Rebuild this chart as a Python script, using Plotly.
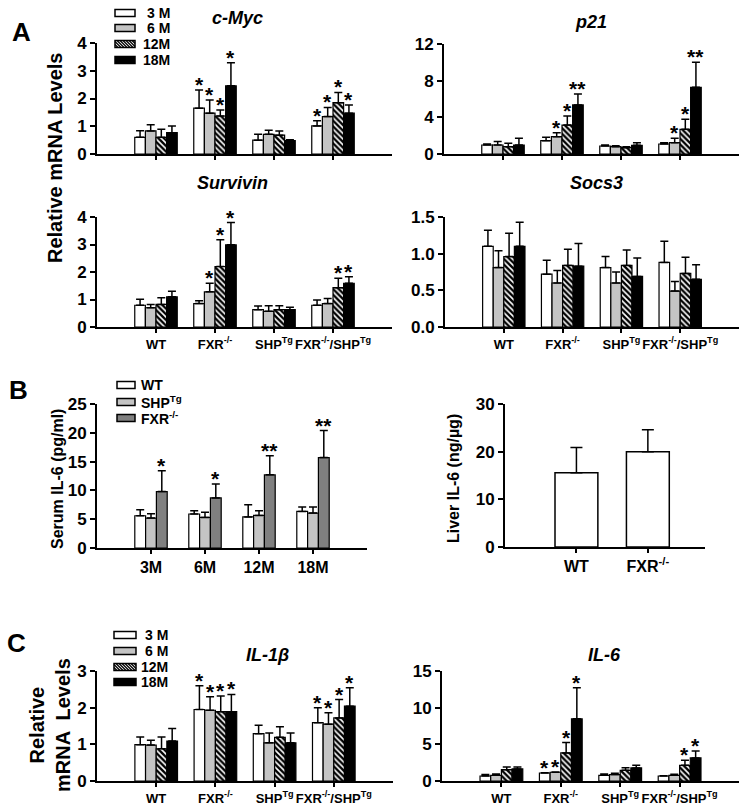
import plotly.graph_objects as go

W, H = 750, 807
FONT = "Liberation Sans, Arial, sans-serif"

# ---------------- data ----------------
genotypes = ["WT", "FXR<sup>-/-</sup>", "SHP<sup>Tg</sup>", "FXR<sup>-/-</sup>/SHP<sup>Tg</sup>"]
ages = ["3 M", "6 M", "12M", "18M"]

# rows = ages (3M, 6M, 12M, 18M); columns = genotypes (WT, FXR-/-, SHPTg, FXR-/-/SHPTg)
cmyc_mean = [[0.60, 1.65, 0.50, 1.01], [0.83, 1.47, 0.71, 1.35], [0.60, 1.37, 0.68, 1.85], [0.77, 2.46, 0.48, 1.47]]
cmyc_err = [[0.24, 0.66, 0.21, 0.19], [0.22, 0.48, 0.15, 0.33], [0.29, 0.22, 0.15, 0.37], [0.24, 0.83, 0.03, 0.30]]
cmyc_sig = [["", "*", "", "*"], ["", "*", "", "*"], ["", "*", "", "*"], ["", "*", "", "*"]]

p21_mean = [[0.98, 1.45, 0.87, 1.09], [0.98, 1.89, 0.80, 1.24], [0.80, 3.16, 0.69, 2.69], [0.98, 5.35, 0.95, 7.27]]
p21_err = [[0.11, 0.37, 0.11, 0.15], [0.37, 0.44, 0.11, 0.47], [0.36, 0.99, 0.11, 1.09], [0.73, 1.20, 0.29, 2.73]]
p21_sig = [["", "", "", ""], ["", "*", "", "*"], ["", "*", "", "*"], ["", "**", "", "**"]]

surv_mean = [[0.79, 0.85, 0.63, 0.79], [0.70, 1.28, 0.57, 0.85], [0.82, 2.20, 0.63, 1.43], [1.10, 2.99, 0.63, 1.59]]
surv_err = [[0.22, 0.10, 0.13, 0.19], [0.12, 0.31, 0.20, 0.19], [0.24, 0.97, 0.14, 0.34], [0.20, 0.81, 0.09, 0.24]]
surv_sig = [["", "", "", ""], ["", "*", "", ""], ["", "*", "", "*"], ["", "*", "", "*"]]

socs3_mean = [[1.10, 0.72, 0.81, 0.88], [0.81, 0.60, 0.60, 0.49], [0.96, 0.84, 0.84, 0.73], [1.10, 0.83, 0.69, 0.65]]
socs3_err = [[0.22, 0.19, 0.15, 0.29], [0.23, 0.17, 0.15, 0.13], [0.32, 0.22, 0.21, 0.22], [0.33, 0.31, 0.25, 0.20]]
socs3_sig = [["", "", "", ""], ["", "", "", ""], ["", "", "", ""], ["", "", "", ""]]

# Panel B: serum IL-6 by age
serum_ages = ["3M", "6M", "12M", "18M"]
serum_groups = ["WT", "SHP<sup>Tg</sup>", "FXR<sup>-/-</sup>"]
serum_mean = [[5.6, 5.9, 5.4, 6.35], [5.2, 5.3, 5.66, 6.06], [9.8, 8.7, 12.7, 15.7]]
serum_err = [[1.04, 0.57, 2.1, 0.75], [0.75, 0.9, 0.81, 1.04], [3.6, 2.4, 3.3, 4.7]]
serum_sig = [["", "", "", ""], ["", "", "", ""], ["*", "*", "**", "**"]]

liver_groups = ["WT", "FXR<sup>-/-</sup>"]
liver_mean = [15.6, 20.0]
liver_err = [5.3, 4.6]

# Panel C
il1b_mean = [[0.99, 1.95, 1.29, 1.59], [0.98, 1.93, 1.04, 1.55], [0.88, 1.89, 1.19, 1.72], [1.09, 1.89, 1.04, 2.04]]
il1b_err = [[0.21, 0.65, 0.23, 0.41], [0.13, 0.37, 0.27, 0.31], [0.32, 0.43, 0.29, 0.50], [0.34, 0.47, 0.27, 0.50]]
il1b_sig = [["", "*", "", "*"], ["", "*", "", "*"], ["", "*", "", "*"], ["", "*", "", "*"]]

il6_mean = [[0.68, 1.09, 0.78, 0.68], [0.78, 1.19, 0.87, 0.78], [1.55, 3.83, 1.46, 2.14], [1.64, 8.48, 1.78, 3.15]]
il6_err = [[0.19, 0.05, 0.18, 0.05], [0.18, 0.05, 0.18, 0.13], [0.37, 1.41, 0.36, 0.69], [0.28, 4.22, 0.36, 0.95]]
il6_sig = [["", "*", "", ""], ["", "*", "", ""], ["", "*", "", "*"], ["", "*", "", "*"]]

# ---------------- styling ----------------
GRAY = "#c4c4c4"
DARK = "#808080"
age_styles = [
    dict(color="white"),
    dict(color=GRAY),
    dict(color="white", pattern=dict(shape="\\", fgcolor="black", bgcolor="white", size=4, solidity=0.6)),
    dict(color="black"),
]
serum_styles = [dict(color="white"), dict(color=GRAY), dict(color=DARK)]


def px_x(v):
    return v / W


def px_y(v):
    return 1 - v / H


fig = go.Figure()
ann = []
shapes = []


def axname(n, kind):
    return kind if n == 1 else f"{kind}{n}"


def add_grouped(n, means, errs, sigs, names, styles, bw):
    k = len(means)
    xs_base = list(range(len(means[0])))
    for i in range(k):
        off = -k * bw / 2 + i * bw
        st = styles[i]
        marker = dict(color=st["color"], line=dict(color="black", width=1.2))
        if "pattern" in st:
            marker["pattern"] = st["pattern"]
        fig.add_trace(go.Bar(
            x=xs_base, y=means[i], width=bw, offset=off, marker=marker,
            error_y=dict(type="data", symmetric=False, array=errs[i], arrayminus=[0] * len(errs[i]),
                         color="black", thickness=1.5, width=4),
            xaxis=axname(n, "x"), yaxis=axname(n, "y"), name=names[i], showlegend=False,
            hoverinfo="skip",
        ))
        for j, s in enumerate(sigs[i]):
            if s:
                ann.append(dict(x=xs_base[j] + off + bw / 2, y=means[i][j] + errs[i][j],
                                xref=axname(n, "x"), yref=axname(n, "y"), text=s, showarrow=False,
                                xanchor="center", yanchor="bottom", yshift=-8,
                                font=dict(family=FONT, size=21, color="black", weight="bold")))


add_grouped(1, cmyc_mean, cmyc_err, cmyc_sig, ages, age_styles, 0.18)
add_grouped(2, p21_mean, p21_err, p21_sig, ages, age_styles, 0.18)
add_grouped(3, surv_mean, surv_err, surv_sig, ages, age_styles, 0.18)
add_grouped(4, socs3_mean, socs3_err, socs3_sig, ages, age_styles, 0.18)
add_grouped(5, serum_mean, serum_err, serum_sig, serum_groups, serum_styles, 0.2)
add_grouped(7, il1b_mean, il1b_err, il1b_sig, ages, age_styles, 0.18)
add_grouped(8, il6_mean, il6_err, il6_sig, ages, age_styles, 0.18)

fig.add_trace(go.Bar(
    x=[0, 1], y=liver_mean, width=0.6, marker=dict(color="white", line=dict(color="black", width=1.5)),
    error_y=dict(type="data", symmetric=False, array=liver_err, arrayminus=[0, 0], color="black",
                 thickness=1.5, width=6),
    xaxis="x6", yaxis="y6", showlegend=False, hoverinfo="skip",
))

# ---------------- axes ----------------
panels = {
    1: dict(x=(97, 392), y=(43, 154), yr=4, yt=[0, 1, 2, 3, 4], xr=(-1, 4), lab=None),
    2: dict(x=(444, 739), y=(44, 154), yr=12, yt=[0, 4, 8, 12], xr=(-1, 4), lab=None),
    3: dict(x=(97, 392), y=(217, 327), yr=4, yt=[0, 1, 2, 3, 4], xr=(-1, 4), lab=genotypes),
    4: dict(x=(445, 739), y=(217, 327), yr=1.5, yt=[0, 0.5, 1.0, 1.5], xr=(-1, 4), lab=genotypes, fmt=".1f"),
    5: dict(x=(97, 367), y=(404, 548), yr=25, yt=[0, 5, 10, 15, 20, 25], xr=(-1, 4), lab=serum_ages, lf=16),
    6: dict(x=(505, 705), y=(404, 547), yr=30, yt=[0, 10, 20, 30], xr=(-1, 1.8), lab=liver_groups, lf=16),
    7: dict(x=(97, 393), y=(671, 781), yr=3, yt=[0, 1, 2, 3], xr=(-1, 4), lab=genotypes),
    8: dict(x=(442, 739), y=(671, 781), yr=15, yt=[0, 5, 10, 15], xr=(-1, 4), lab=genotypes),
}

layout_axes = {}
for n, p in panels.items():
    xk = "xaxis" if n == 1 else f"xaxis{n}"
    yk = "yaxis" if n == 1 else f"yaxis{n}"
    nticks = len(p["lab"]) if p["lab"] else 4
    xa = dict(
        domain=[px_x(p["x"][0]), px_x(p["x"][1])], range=list(p["xr"]),
        anchor=axname(n, "y"), showgrid=False, zeroline=False, automargin=False,
        showline=True, linecolor="black", linewidth=2,
        ticks="outside", ticklen=4, tickwidth=1.5, tickcolor="black", tickangle=0,
        tickvals=list(range(nticks)), showticklabels=bool(p["lab"]),
        tickfont=dict(family=FONT, size=p.get("lf", 13), color="black", weight="bold"),
        fixedrange=True,
    )
    if p["lab"]:
        xa["ticktext"] = p["lab"]
    layout_axes[xk] = xa
    layout_axes[yk] = dict(
        domain=[px_y(p["y"][1]), px_y(p["y"][0])], range=[0, p["yr"]],
        anchor=axname(n, "x"), showgrid=False, zeroline=False, automargin=False,
        showline=True, linecolor="black", linewidth=2,
        ticks="outside", ticklen=5, tickwidth=1.5, tickcolor="black",
        tickvals=p["yt"], tickformat=p.get("fmt", ""),
        tickfont=dict(family=FONT, size=17, color="black", weight="bold"),
        fixedrange=True,
    )


def text_ann(x, y, txt, size, italic=False, angle=0, xanchor="center"):
    ann.append(dict(x=px_x(x), y=px_y(y), xref="paper", yref="paper", text=txt, showarrow=False,
                    xanchor=xanchor, yanchor="middle", textangle=angle,
                    font=dict(family=FONT, size=size, color="black", weight="bold",
                              style="italic" if italic else "normal")))


text_ann(21, 32, "A", 26)
text_ann(18, 390, "B", 26)
text_ann(16, 643, "C", 26)
text_ann(237, 18, "c-Myc", 18, italic=True)
text_ann(591, 22, "p21", 18, italic=True)
text_ann(233, 183, "Survivin", 18, italic=True)
text_ann(596, 183, "Socs3", 18, italic=True)
text_ann(267, 655, "IL-1β", 18, italic=True)
text_ann(604, 655, "IL-6", 18, italic=True)
text_ann(55, 158, "Relative mRNA Levels", 20, angle=-90)
text_ann(57, 479, "Serum IL-6 (pg/ml)", 16, angle=-90)
text_ann(454, 478, "Liver IL-6 (ng/µg)", 16, angle=-90)
text_ann(50, 725, "Relative<br>mRNA  Levels", 20, angle=-90)

# significance bracket between FXR-/- and FXR-/-/SHPTg (18M bars) in Survivin
bx1 = 1 - 2 * 0.18 + 3.5 * 0.18
bx2 = 3 - 2 * 0.18 + 3.5 * 0.18
shapes.append(dict(type="path", xref="x3", yref="y3",
                   path=f"M{bx1},4.33 L{bx1},4.6 L{bx2},4.6 L{bx2},4.33",
                   line=dict(color="black", width=1.5)))
ann.append(dict(x=(bx1 + bx2) / 2, y=4.6, xref="x3", yref="y3", text="#", showarrow=False,
                yanchor="bottom", font=dict(family=FONT, size=17, color="black", weight="bold")))


# ---------------- legends (drawn as keys) ----------------
def key_patch(x0, x1, yc, style, h=7):
    y0, y1 = yc - h / 2, yc + h / 2
    shapes.append(dict(type="rect", xref="paper", yref="paper",
                       x0=px_x(x0), x1=px_x(x1), y0=px_y(y1), y1=px_y(y0),
                       fillcolor=style["color"], line=dict(color="black", width=1.5), layer="above"))
    if "pattern" in style:
        step = 3.0
        s = x0 - h
        while s < x1:
            a, b = s, s + h
            ca, cb = max(a, x0), min(b, x1)
            if cb > ca:
                ya = y0 + (ca - a)
                yb = y0 + (cb - a)
                shapes.append(dict(type="line", xref="paper", yref="paper",
                                   x0=px_x(ca), y0=px_y(ya), x1=px_x(cb), y1=px_y(yb),
                                   line=dict(color="black", width=1.3), layer="above"))
            s += step


def key_text(x, yc, txt, anchor):
    ann.append(dict(x=px_x(x), y=px_y(yc), xref="paper", yref="paper", text=txt, showarrow=False,
                    xanchor=anchor, yanchor="middle",
                    font=dict(family=FONT, size=14, color="black", weight="bold")))


for i, yc in enumerate([13, 28, 44, 60]):
    key_patch(115, 135, yc, age_styles[i])
    key_text(172, yc, ages[i], "right")
for i, yc in enumerate([385, 402, 418]):
    key_patch(117, 135, yc, serum_styles[i])
    key_text(139, yc, serum_groups[i], "left")
for i, yc in enumerate([635, 651, 667, 682]):
    key_patch(114, 136, yc, age_styles[i])
    key_text(170, yc, ages[i], "right")

fig.update_layout(
    template="none",
    width=W, height=H, margin=dict(l=0, r=0, t=0, b=0, autoexpand=False),
    plot_bgcolor="white", paper_bgcolor="white",
    font=dict(family=FONT, color="black"),
    showlegend=False, barmode="overlay",
    annotations=ann, shapes=shapes,
    **layout_axes,
)

fig.write_html("out.html", config={"displayModeBar": False},
               post_script="document.body.style.margin='0px';document.body.style.padding='0px';")
